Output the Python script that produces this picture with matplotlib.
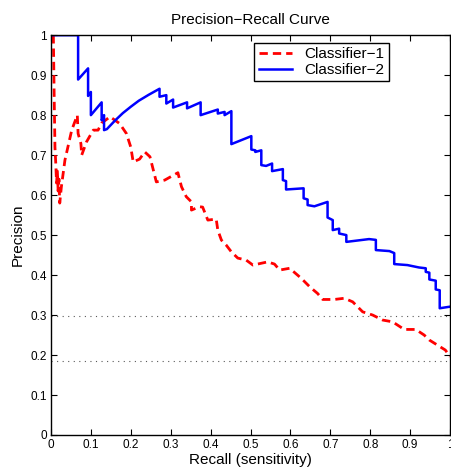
import matplotlib.pyplot as plt

plt.rcParams['font.family'] = ['Liberation Sans', 'DejaVu Sans']

# Classifier-1 (red dashed)
recall_1 = [0.006, 0.008, 0.010, 0.012, 0.014, 0.016, 0.018, 0.020, 0.022, 0.026,
            0.035, 0.052, 0.066, 0.068, 0.075, 0.077, 0.089, 0.106, 0.118, 0.127,
            0.148, 0.172, 0.189, 0.200, 0.206, 0.222, 0.235, 0.248, 0.264, 0.285,
            0.318, 0.327, 0.339, 0.352, 0.352, 0.372, 0.380, 0.393, 0.414, 0.418,
            0.427, 0.439, 0.452, 0.468, 0.489, 0.506, 0.543, 0.560, 0.573, 0.598,
            0.627, 0.648, 0.668, 0.681, 0.710, 0.735, 0.756, 0.781, 0.806, 0.831,
            0.856, 0.885, 0.914, 0.935, 0.948, 0.968, 0.988, 1.0]
precision_1 = [1.0, 0.85, 0.72, 0.68, 0.63, 0.66, 0.61, 0.64, 0.58, 0.62,
               0.6875, 0.7625, 0.80, 0.754, 0.729, 0.70, 0.733, 0.7625, 0.7625, 0.78,
               0.796, 0.779, 0.754, 0.72, 0.683, 0.69, 0.708, 0.696, 0.633, 0.6375,
               0.656, 0.621, 0.596, 0.583, 0.5625, 0.571, 0.57, 0.5375, 0.54, 0.5125,
               0.4875, 0.475, 0.458, 0.4425, 0.4375, 0.425, 0.433, 0.4275, 0.4125, 0.417,
               0.392, 0.371, 0.354, 0.339, 0.339, 0.342, 0.333, 0.308, 0.30, 0.2875,
               0.283, 0.264, 0.264, 0.25, 0.2375, 0.225, 0.2125, 0.196]

# Classifier-2 (blue solid)
recall_2 = [0.0, 0.068, 0.068, 0.093, 0.093, 0.100, 0.100, 0.127, 0.127, 0.133,
            0.133, 0.140, 0.160, 0.180, 0.200, 0.220, 0.245, 0.272, 0.272, 0.289,
            0.289, 0.306, 0.306, 0.341, 0.341, 0.375, 0.375, 0.418, 0.418, 0.435,
            0.435, 0.452, 0.452, 0.502, 0.502, 0.512, 0.512, 0.527, 0.527, 0.539,
            0.554, 0.554, 0.581, 0.581, 0.589, 0.589, 0.633, 0.633, 0.643, 0.643,
            0.660, 0.693, 0.693, 0.706, 0.706, 0.722, 0.722, 0.740, 0.740, 0.797,
            0.814, 0.814, 0.848, 0.860, 0.860, 0.893, 0.922, 0.939, 0.939, 0.948,
            0.948, 0.964, 0.964, 0.974, 0.974, 1.0]
precision_2 = [1.0, 1.0, 0.889, 0.917, 0.848, 0.858, 0.80, 0.832, 0.787, 0.80,
               0.7625, 0.765, 0.786, 0.805, 0.821, 0.836, 0.851, 0.866, 0.846, 0.85,
               0.829, 0.839, 0.819, 0.832, 0.817, 0.832, 0.80, 0.814, 0.804, 0.808,
               0.80, 0.81, 0.7275, 0.7475, 0.714, 0.712, 0.708, 0.712, 0.675, 0.673,
               0.679, 0.66, 0.665, 0.6375, 0.635, 0.614, 0.617, 0.592, 0.589, 0.575,
               0.572, 0.583, 0.544, 0.5375, 0.5125, 0.516, 0.504, 0.50, 0.483, 0.49,
               0.488, 0.4625, 0.46, 0.455, 0.4275, 0.425, 0.419, 0.417, 0.408, 0.406,
               0.389, 0.386, 0.364, 0.362, 0.317, 0.321]

baselines = [0.297, 0.186]

fig = plt.figure(figsize=(4.51, 4.69), dpi=100)
ax = fig.add_axes([0.113, 0.0725, 0.885, 0.8525])

for b in baselines:
    ax.axhline(b, color='0.35', linestyle=(0, (1, 4)), linewidth=0.8)

ax.plot(recall_1, precision_1, color='red', linestyle=(0, (3, 1.8)), linewidth=2, label='Classifier\u22121')
ax.plot(recall_2, precision_2, color='blue', linewidth=1.8, label='Classifier\u22122')

ax.set_xlim(0, 1)
ax.set_ylim(0, 1)
ticks = [i / 10 for i in range(11)]
ticklabels = ['0'] + ['%.1f' % t for t in ticks[1:-1]] + ['1']
ax.set_xticks(ticks)
ax.set_xticklabels(ticklabels)
ax.set_yticks(ticks)
ax.set_yticklabels(ticklabels)
ax.tick_params(direction='in', length=4, top=True, right=True, labelsize=8.5, pad=3)
for s in ax.spines.values():
    s.set_linewidth(1)

ax.set_xlabel('Recall (sensitivity)', fontsize=11, labelpad=1)
ax.set_ylabel('Precision', fontsize=11, labelpad=4)
ax.set_title('Precision\u2212Recall Curve', fontsize=11, pad=8)

leg = ax.legend(loc='upper right', bbox_to_anchor=(0.8475, 0.981), fontsize=11,
                fancybox=False, framealpha=1, edgecolor='black', borderpad=0.3,
                labelspacing=0.1, handlelength=2.2, borderaxespad=0)
leg.get_frame().set_linewidth(1)

fig.savefig('out.png')
